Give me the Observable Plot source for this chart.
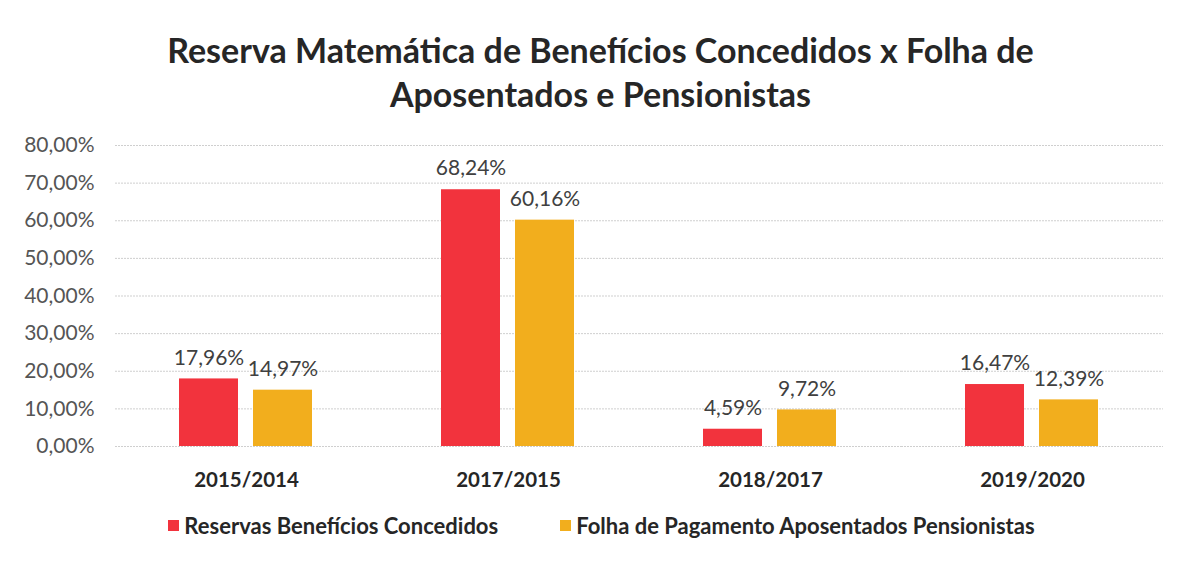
<!DOCTYPE html>
<html>
<head>
<meta charset="utf-8">
<script src="https://cdn.jsdelivr.net/npm/d3@7"></script>
<script src="https://cdn.jsdelivr.net/npm/@observablehq/plot@0.6"></script>
<style>
  body { margin: 0; background: #fff; font-family: Lato, "Open Sans", sans-serif; }
  #wrap { width: 1189px; height: 561px; position: relative; overflow: hidden; }
  #title { position: absolute; top: 28px; left: 0; width: 1189px; text-align: center; font-size: 34px; font-weight: bold; line-height: 44px; color: #262626; padding-left: 12px; box-sizing: border-box; }
  #chart { position: absolute; top: 120px; left: 0; }
  #legend { position: absolute; top: 512px; left: 0; width: 1189px; display: flex; justify-content: center; gap: 62px; font-size: 22px; font-weight: bold; color: #262626; padding-left: 14px; box-sizing: border-box; }
  .item { display: flex; align-items: center; gap: 5px; }
  .sw { width: 11px; height: 11px; display: inline-block; }
</style>
</head>
<body>
<div id="wrap">
  <div id="title">Reserva Matemática de Benefícios Concedidos x Folha de<br>Aposentados e Pensionistas</div>
  <div id="chart"></div>
  <div id="legend"></div>
</div>
<script>
const categories = ["2015/2014", "2017/2015", "2018/2017", "2019/2020"];
const seriesNames = ["Reservas Benefícios Concedidos", "Folha de Pagamento Aposentados Pensionistas"];
const reservas = [17.96, 68.24, 4.59, 16.47];
const folha = [14.97, 60.16, 9.72, 12.39];
const yTicks = [0, 10, 20, 30, 40, 50, 60, 70, 80];
const colors = ["#f2333d", "#f2ae1d"];

const data = [];
categories.forEach((c, i) => {
  data.push({cat: c, series: seriesNames[0], value: reservas[i]});
  data.push({cat: c, series: seriesNames[1], value: folha[i]});
});
const fmt = v => v.toFixed(2).replace(".", ",") + "%";

const chart = Plot.plot({
  width: 1189,
  height: 380,
  marginLeft: 114,
  marginRight: 26,
  marginTop: 25,
  marginBottom: 54,
  style: { fontFamily: "Lato, 'Open Sans', sans-serif", background: "transparent" },
  fx: { domain: categories, padding: 0, label: null },
  x: { domain: seriesNames, paddingInner: 0.2, paddingOuter: 0.85, axis: null },
  y: { domain: [0, 80], axis: null },
  color: { domain: seriesNames, range: colors },
  marks: [
    Plot.gridY(yTicks, { stroke: "#cfcfcf", strokeOpacity: 1, strokeDasharray: "2,1" }),
    Plot.axisY(yTicks, { tickSize: 0, tickPadding: 21, tickFormat: fmt, fontSize: 21, fill: "#555", label: null }),
    Plot.barY(data, { fx: "cat", x: "series", y: "value", fill: "series" }),
    Plot.text(data, { fx: "cat", x: "series", y: "value", text: d => fmt(d.value), dy: -21, fontSize: 21, fill: "#404040" }),
    Plot.axisFx({ anchor: "bottom", tickSize: 0, tickPadding: 26, fontSize: 20.5, fontWeight: "bold", fill: "#262626", label: null })
  ]
});
document.getElementById("chart").appendChild(chart);

const legend = document.getElementById("legend");
seriesNames.forEach((s, i) => {
  const it = document.createElement("div");
  it.className = "item";
  it.innerHTML = `<span class="sw" style="background:${colors[i]}"></span><span>${s}</span>`;
  legend.appendChild(it);
});
</script>
</body>
</html>
